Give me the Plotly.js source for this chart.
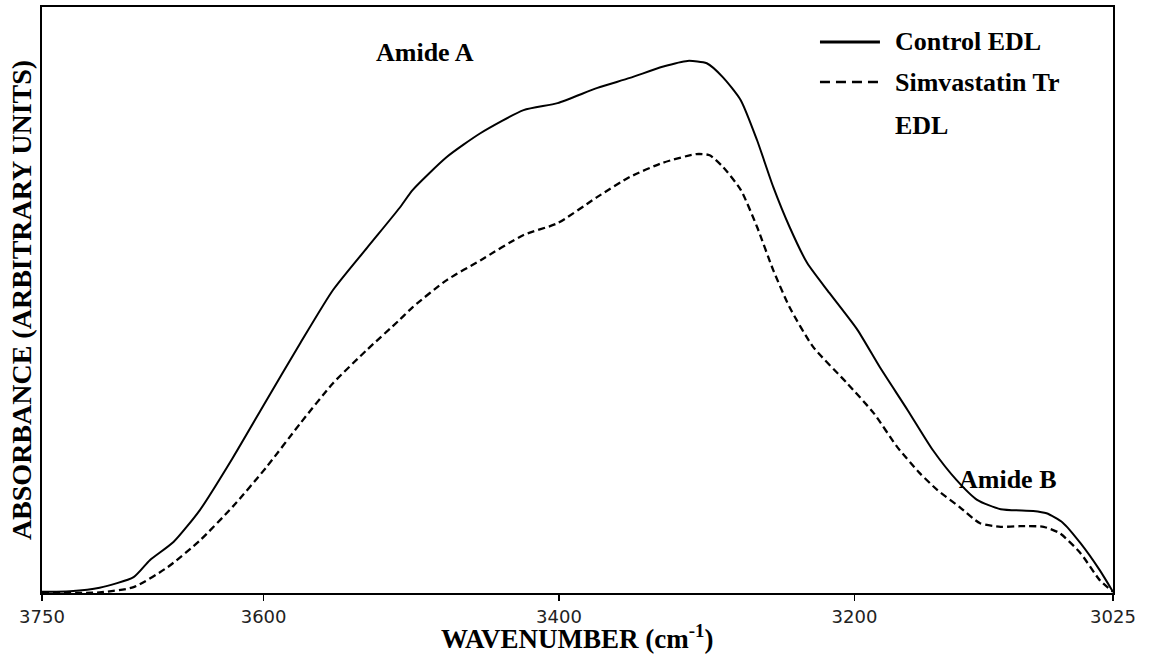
<!DOCTYPE html>
<html>
<head>
<meta charset="utf-8">
<script src="https://cdn.plot.ly/plotly-3.0.1.min.js"></script>
<style>html,body{margin:0;padding:0;background:#fff;}#chart{width:1169px;height:666px;}</style>
</head>
<body>
<div id="chart"></div>
<script>
// Wavenumber (cm-1) and absorbance (arbitrary units, 0-100 scale)
var controlWavenumber = [3750, 3731, 3711, 3688, 3677, 3661, 3643, 3621, 3598, 3575, 3553, 3530, 3508, 3499, 3476, 3453, 3424, 3401, 3374, 3352, 3330, 3313, 3300, 3289, 3277, 3266, 3255, 3244, 3232, 3217, 3198, 3183, 3164, 3147, 3131, 3117, 3101, 3079, 3070, 3059, 3047, 3034, 3025];
var controlAbsorbance = [0.2, 0.3, 0.9, 2.7, 5.6, 8.7, 14.2, 23.0, 32.9, 42.7, 51.7, 58.9, 65.7, 68.8, 74.4, 78.5, 82.4, 83.6, 86.2, 87.9, 89.8, 90.8, 90.4, 88.0, 84.1, 77.3, 69.3, 62.5, 56.3, 51.2, 44.9, 38.6, 31.2, 24.4, 19.3, 15.9, 14.3, 14.0, 13.6, 12.0, 8.5, 3.9, 0.2];

var simvaWavenumber = [3750, 3711, 3688, 3665, 3643, 3621, 3598, 3575, 3553, 3530, 3508, 3499, 3476, 3453, 3424, 3401, 3374, 3352, 3330, 3307, 3298, 3289, 3277, 3266, 3255, 3244, 3228, 3205, 3187, 3171, 3156, 3144, 3129, 3115, 3101, 3088, 3072, 3061, 3047, 3034, 3025];
var simvaAbsorbance = [0.0, 0.1, 1.0, 4.4, 9.0, 14.7, 21.5, 29.0, 35.8, 41.5, 46.6, 48.8, 53.4, 56.8, 61.1, 63.1, 67.6, 71.0, 73.4, 74.9, 74.7, 72.7, 68.8, 62.5, 55.1, 48.8, 42.0, 35.8, 30.7, 24.9, 20.5, 17.6, 14.7, 11.9, 11.3, 11.4, 11.3, 10.2, 6.8, 2.2, 0.2];

var tickValues = [3750, 3600, 3400, 3200, 3025];
var tickLabels = ['3750', '3600', '3400', '3200', '3025'];
var seriesNames = ['Control EDL', 'Simvastatin Tr', 'EDL'];
var peakLabels = ['Amide A', 'Amide B'];
var peakX = [3491, 3096];
var peakY = [92.3, 19.3];
var xTitle = 'WAVENUMBER (cm<sup>-1</sup>)';
var yTitle = 'ABSORBANCE (ARBITRARY UNITS)';

var serif = '"Liberation Serif", "Times New Roman", serif';

var traces = [
  {x: controlWavenumber, y: controlAbsorbance, mode: 'lines', name: seriesNames[0],
   line: {color: '#000', width: 2, shape: 'spline', smoothing: 0.6}, hoverinfo: 'x+y'},
  {x: simvaWavenumber, y: simvaAbsorbance, mode: 'lines', name: seriesNames[1] + ' ' + seriesNames[2],
   line: {color: '#000', width: 2.3, dash: '7px,4px', shape: 'spline', smoothing: 0.6}, hoverinfo: 'x+y'}
];

var annotations = [
  {x: peakX[0], y: peakY[0], xref: 'x', yref: 'y', text: peakLabels[0], showarrow: false,
   font: {family: serif, size: 26, color: '#000', weight: 'bold'}},
  {x: peakX[1], y: peakY[1], xref: 'x', yref: 'y', text: peakLabels[1], showarrow: false,
   font: {family: serif, size: 26, color: '#000', weight: 'bold'}},
  {x: 0.7946, y: 0.9403, xref: 'paper', yref: 'paper', xanchor: 'left', yanchor: 'middle',
   text: seriesNames[0], showarrow: false, font: {family: serif, size: 26, color: '#000', weight: 'bold'}},
  {x: 0.7946, y: 0.872, xref: 'paper', yref: 'paper', xanchor: 'left', yanchor: 'middle',
   text: seriesNames[1], showarrow: false, font: {family: serif, size: 26, color: '#000', weight: 'bold'}},
  {x: 0.7946, y: 0.797, xref: 'paper', yref: 'paper', xanchor: 'left', yanchor: 'middle',
   text: seriesNames[2], showarrow: false, font: {family: serif, size: 26, color: '#000', weight: 'bold'}},
  {x: 0.5, y: -0.0751, xref: 'paper', yref: 'paper', xanchor: 'center', yanchor: 'middle',
   text: xTitle, showarrow: false, font: {family: serif, size: 27, color: '#000', weight: 'bold'}}
];

var shapes = [
  {type: 'line', xref: 'paper', yref: 'paper', x0: 0.7264, x1: 0.7824, y0: 0.9403, y1: 0.9403,
   line: {color: '#000', width: 3}},
  {type: 'line', xref: 'paper', yref: 'paper', x0: 0.7264, x1: 0.7824, y0: 0.872, y1: 0.872,
   line: {color: '#000', width: 2.5, dash: '10px,6px'}}
];

var layout = {
  width: 1169, height: 666,
  margin: {l: 42, r: 56, t: 7, b: 73},
  paper_bgcolor: '#fff', plot_bgcolor: '#fff',
  showlegend: false,
  xaxis: {
    range: [3750, 3025], autorange: false,
    tickmode: 'array', tickvals: tickValues, ticktext: tickLabels,
    ticks: 'outside', ticklen: 6, tickwidth: 1.5, tickcolor: '#000',
    tickfont: {family: '"DejaVu Sans", sans-serif', size: 18, color: '#222'},
    showgrid: false, zeroline: false,
    showline: true, linecolor: '#000', linewidth: 2, mirror: true
  },
  yaxis: {
    range: [0, 100], autorange: false,
    showticklabels: false, ticks: '',
    showgrid: false, zeroline: false,
    showline: true, linecolor: '#000', linewidth: 2, mirror: true,
    title: {text: yTitle, standoff: 0,
      font: {family: serif, size: 28, color: '#000', weight: 'bold'}}
  },
  annotations: annotations,
  shapes: shapes
};

Plotly.newPlot('chart', traces, layout, {displayModeBar: false, staticPlot: true});
</script>
</body>
</html>
